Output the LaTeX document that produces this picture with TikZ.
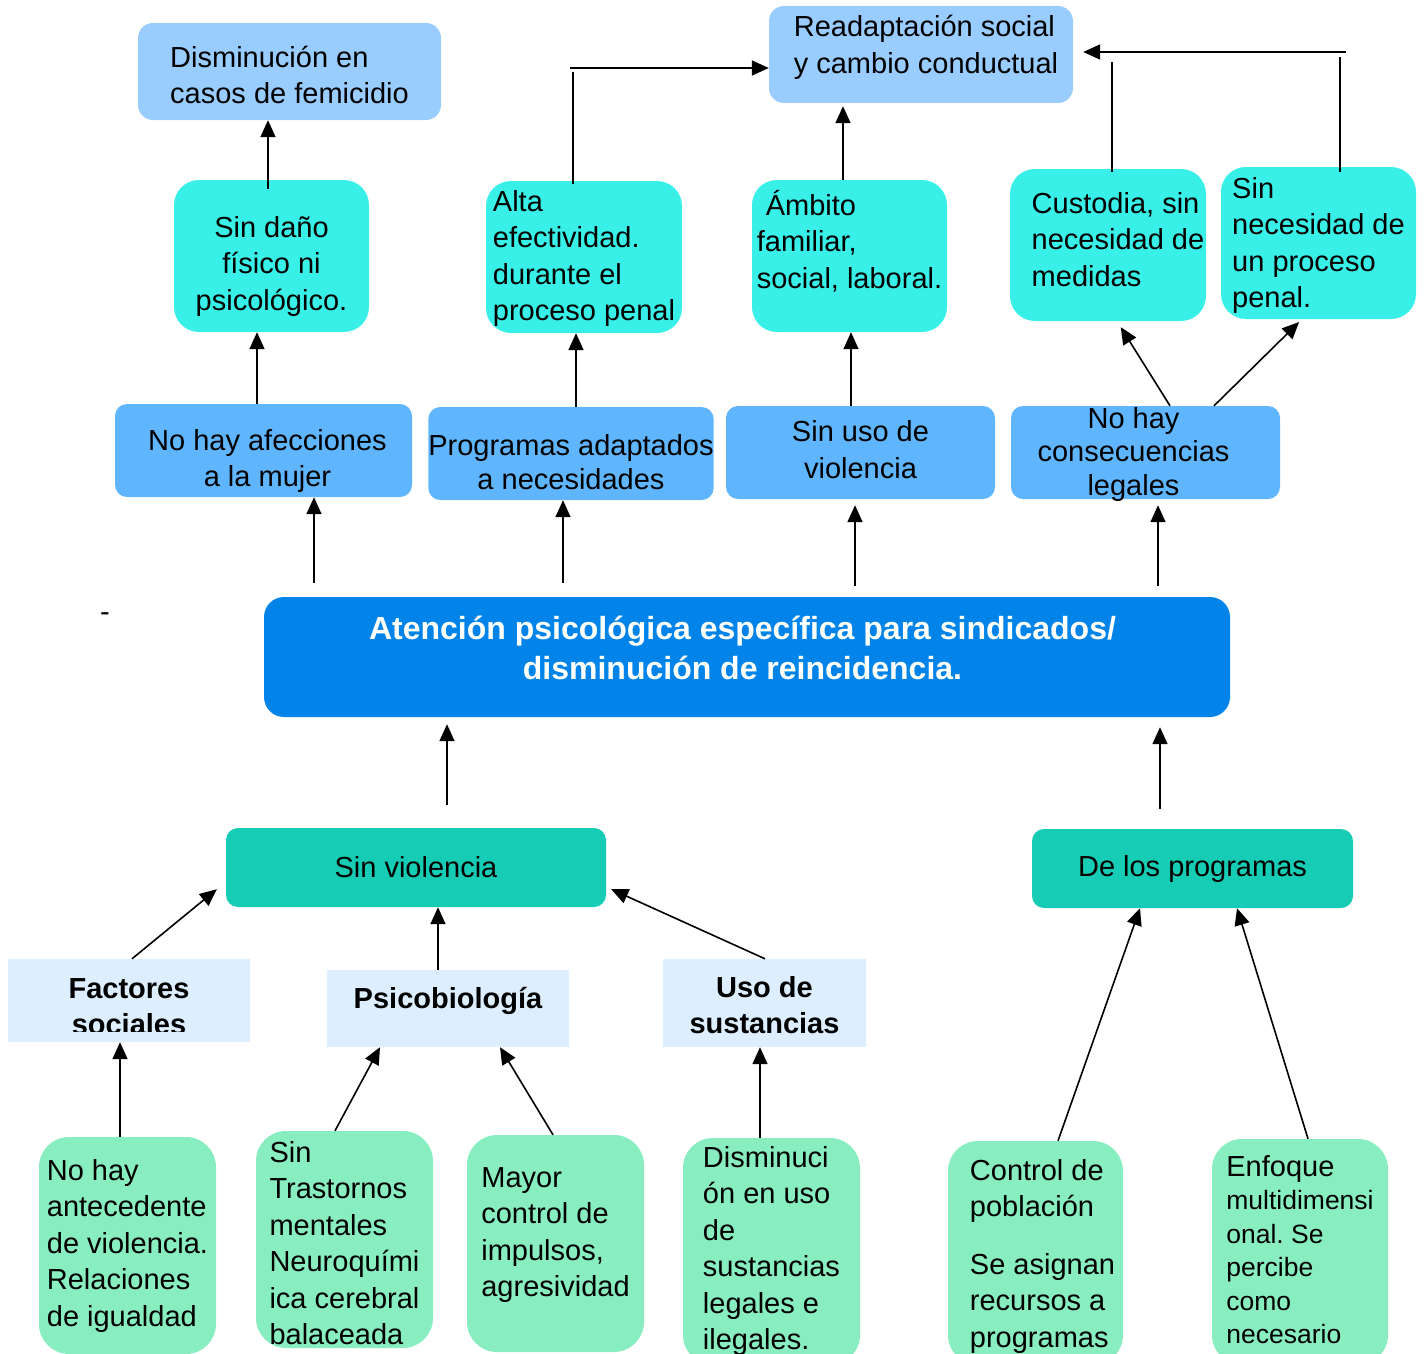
\documentclass[tikz,border=0pt]{standalone}
\usepackage{fontspec}
\setmainfont{Liberation Sans}
\usepackage{tikz}
\usetikzlibrary{arrows.meta,calc}
\frenchspacing

\definecolor{celeste}{HTML}{99CCFF}
\definecolor{turquesa}{HTML}{38F0E8}
\definecolor{azulmedio}{HTML}{5FB6FF}
\definecolor{azulfuerte}{HTML}{0084E9}
\definecolor{verdeazul}{HTML}{17CCB5}
\definecolor{palido}{HTML}{DDEEFF}
\definecolor{verdeclaro}{HTML}{88EEC0}

\tikzset{
  base/.style={inner sep=0pt, font=\fontsize{29}{36.5}\selectfont},
  talto/.style={text depth=0pt, text height=#1},
  resultado/.style={base, fill=celeste, rounded corners=15pt, align=left},
  efecto/.style={base, fill=turquesa, rounded corners=25pt},
  medio/.style={base, fill=azulmedio, rounded corners=12pt, align=center},
  eje/.style={inner sep=0pt, fill=azulfuerte, rounded corners=20pt, align=center, text=white,
    font=\fontsize{32}{40}\selectfont\bfseries},
  causa/.style={base, fill=verdeazul, rounded corners=12pt},
  factor/.style={base, fill=palido, align=center, font=\fontsize{29}{36.5}\selectfont\bfseries},
  raiz/.style={base, fill=verdeclaro, rounded corners=30pt, align=left},
  flecha/.style={-{Triangle[length=17pt,width=15pt]}, line width=1.6pt},
  linea/.style={line width=1.6pt}
}

\begin{document}
\begin{tikzpicture}[x=1pt,y=-1pt]
\useasboundingbox (0,0) rectangle (1428,1354);
\clip (0,0) rectangle (1428,1354);

% resultados arriba
\node[resultado, minimum width=303pt, minimum height=97pt, talto=64pt] (femicidio) at (289.5,71.5) {Disminución en\\casos de femicidio};
\node[resultado, minimum width=304pt, minimum height=97pt, talto=38pt] (readapt) at (921,54.5) {\hspace*{10pt}Readaptación social\\\hspace*{10pt}y cambio conductual};

% efectos
\node[efecto, align=center, minimum width=195pt, minimum height=152pt, talto=108pt] (dano) at (271.5,256) {Sin daño\\físico ni\\psicológico.};
\node[efecto, align=left, minimum width=196pt, minimum height=152pt, talto=127pt] (alta) at (584,257) {Alta\\efectividad.\\durante el\\proceso penal};
\node[efecto, align=left, minimum width=195pt, minimum height=152pt, talto=64pt] (ambito) at (849.5,256) {\hspace*{9pt}Ámbito\\familiar,\\social, laboral.};
\node[efecto, align=left, minimum width=196pt, minimum height=152pt, talto=82pt] (custodia) at (1108,245) {\hspace*{20pt}Custodia, sin\\\hspace*{20pt}necesidad de\\\hspace*{20pt}medidas};
\node[efecto, align=left, minimum width=195pt, minimum height=152pt, talto=129pt] (sinnec) at (1318.5,243) {Sin\\necesidad de\\un proceso\\penal.};

% consecuencias directas
\node[medio, minimum width=297pt, minimum height=93pt, talto=72pt] (afec) at (263.5,450.5) {\hspace*{8pt}No hay afecciones\\\hspace*{8pt}a la mujer};
\node[medio, minimum width=278pt, minimum height=93pt, talto=71pt, font=\fontsize{29}{34}\selectfont] (prog) at (571,453.5) {Programas adaptados\\a necesidades};
\node[medio, minimum width=269pt, minimum height=93pt, talto=51pt] (sinuso) at (860.5,452.5) {Sin uso de\\violencia};
\node[base, fill=azulmedio, rounded corners=12pt, minimum width=269pt, minimum height=93pt, talto=85pt, font=\fontsize{29}{33.5}\selectfont] (consec) at (1145.5,452.5) {\begin{tabular}[b]{@{}c@{}}No hay\\consecuencias\\legales\end{tabular}\hspace*{24pt}};

% problema central
\node[base] (guion) at (105,617) {-};
\node[eje, minimum width=966pt, minimum height=120pt, talto=44pt] (eje) at (747,657) {Atención psicológica específica para sindicados/\hspace*{9pt}\\disminución de reincidencia.\hspace*{9pt}};

% causas
\node[causa, minimum width=380pt, minimum height=79pt] (sinviol) at (416,867.5) {Sin violencia};
\node[causa, minimum width=321pt, minimum height=79pt] (progr) at (1192.5,868.5) {De los programas};

\node[factor, minimum width=242pt, minimum height=83pt, talto=68pt] (fac) at (129,1000.5) {Factores\\sociales};
\fill[palido] (8,1032) rectangle (250,1042);
\node[factor, minimum width=242pt, minimum height=77pt, talto=0pt] (psico) at (448,1008.5) {Psicobiología};
\node[factor, minimum width=203pt, minimum height=88pt, talto=61pt] (uso) at (764.5,1003) {Uso de\\sustancias};

% causas de fondo
\node[raiz, minimum width=177pt, minimum height=217pt, talto=161pt] (nohay) at (127.5,1245.5) {No hay\\antecedente\\de violencia.\\Relaciones\\de igualdad};
\node[raiz, minimum width=177pt, minimum height=217pt, talto=210pt] (sintras) at (344.5,1239.5) {Sin\\Trastornos\\mentales\\Neuroquími\\ica cerebral\\balaceada};
\node[raiz, minimum width=177pt, minimum height=217pt, talto=106pt] (mayor) at (555.5,1243.5) {Mayor\\control de\\impulsos,\\agresividad};
\node[raiz, minimum width=177pt, minimum height=227pt, talto=196pt] (dismi) at (771.5,1251.5) {Disminuci\\ón en uso\\de\\sustancias\\legales e\\ilegales.};
\node[raiz, minimum width=175pt, minimum height=224pt, talto=188pt] (control) at (1035.5,1253) {\hspace*{14pt}Control de\\\hspace*{14pt}población\\[21pt]\hspace*{14pt}Se asignan\\\hspace*{14pt}recursos a\\\hspace*{14pt}programas};
\node[raiz, minimum width=176pt, minimum height=226pt, talto=183pt, font=\fontsize{26.5}{33.5}\selectfont] (enfoque) at (1300,1252) {{\fontsize{29}{33.5}\selectfont Enfoque}\\multidimensi\\onal. Se\\percibe\\como\\necesario};

% flechas hacia arriba desde el problema central
\draw[flecha, shorten <=14pt] (eje.north -| 314,0) -- (afec.south -| 314,0);
\draw[flecha, shorten <=14pt] (eje.north -| 563,0) -- (prog.south -| 563,0);
\draw[flecha, shorten <=11pt, shorten >=6pt] (eje.north -| 855,0) -- (sinuso.south -| 855,0);
\draw[flecha, shorten <=11pt, shorten >=6pt] (eje.north -| 1158,0) -- (consec.south -| 1158,0);

\draw[flecha] (afec.north -| 257,0) -- (dano.south -| 257,0);
\draw[flecha] (prog.north -| 576,0) -- (alta.south -| 576,0);
\draw[flecha] (sinuso.north -| 851,0) -- (ambito.south -| 851,0);
\draw[flecha, shorten >=7pt] (consec.north -| 1170,0) -- (custodia.south -| 1117,0);
\draw[flecha, shorten >=4pt] (consec.north -| 1214,0) -- (sinnec.south -| 1302,0);

\draw[flecha, shorten <=-9pt] (dano.north -| 268,0) -- (femicidio.south -| 268,0);
\draw[flecha, shorten >=3pt] (ambito.north -| 843,0) -- (readapt.south -| 843,0);

\coordinate (altaarriba) at (573,72);
\coordinate (altagiro) at (570,68);
\draw[linea, shorten <=-3pt] (alta.north -| 573,0) -- (altaarriba);
\draw[flecha] (altagiro) -- (readapt.west |- altagiro);

\coordinate (custarriba) at (1112,62);
\coordinate (sinarriba) at (1340,57);
\coordinate (retorno) at (1346,52);
\draw[linea, shorten <=-3pt] (custodia.north -| 1112,0) -- (custarriba);
\draw[linea, shorten <=-5pt] (sinnec.north -| 1340,0) -- (sinarriba);
\draw[flecha, shorten >=10pt] (retorno) -- (readapt.east |- retorno);

% flechas desde las causas
\draw[flecha, shorten <=23pt, shorten >=7pt] (sinviol.north -| 447,0) -- (eje.south -| 447,0);
\draw[flecha, shorten <=20pt, shorten >=10pt] (progr.north -| 1160,0) -- (eje.south -| 1160,0);
\draw[flecha] (fac.north -| 132,0) -- ($(sinviol.south west)+(-9,-18)$);
\draw[flecha] (psico.north -| 438,0) -- (sinviol.south -| 438,0);
\draw[flecha] (uso.north -| 765,0) -- ($(sinviol.south east)+(5,-18)$);
\draw[flecha] (nohay.north -| 120,0) -- (fac.south -| 120,0);
\draw[flecha] (sintras.north -| 335,0) -- (psico.south -| 380,0);
\draw[flecha] (mayor.north -| 553,0) -- (psico.south -| 500,0);
\draw[flecha] (dismi.north -| 760,0) -- (uso.south -| 760,0);
\draw[flecha] (control.north -| 1058,0) -- (progr.south -| 1140,0);
\draw[flecha] (enfoque.north -| 1308,0) -- (progr.south -| 1237,0);
\end{tikzpicture}
\end{document}
